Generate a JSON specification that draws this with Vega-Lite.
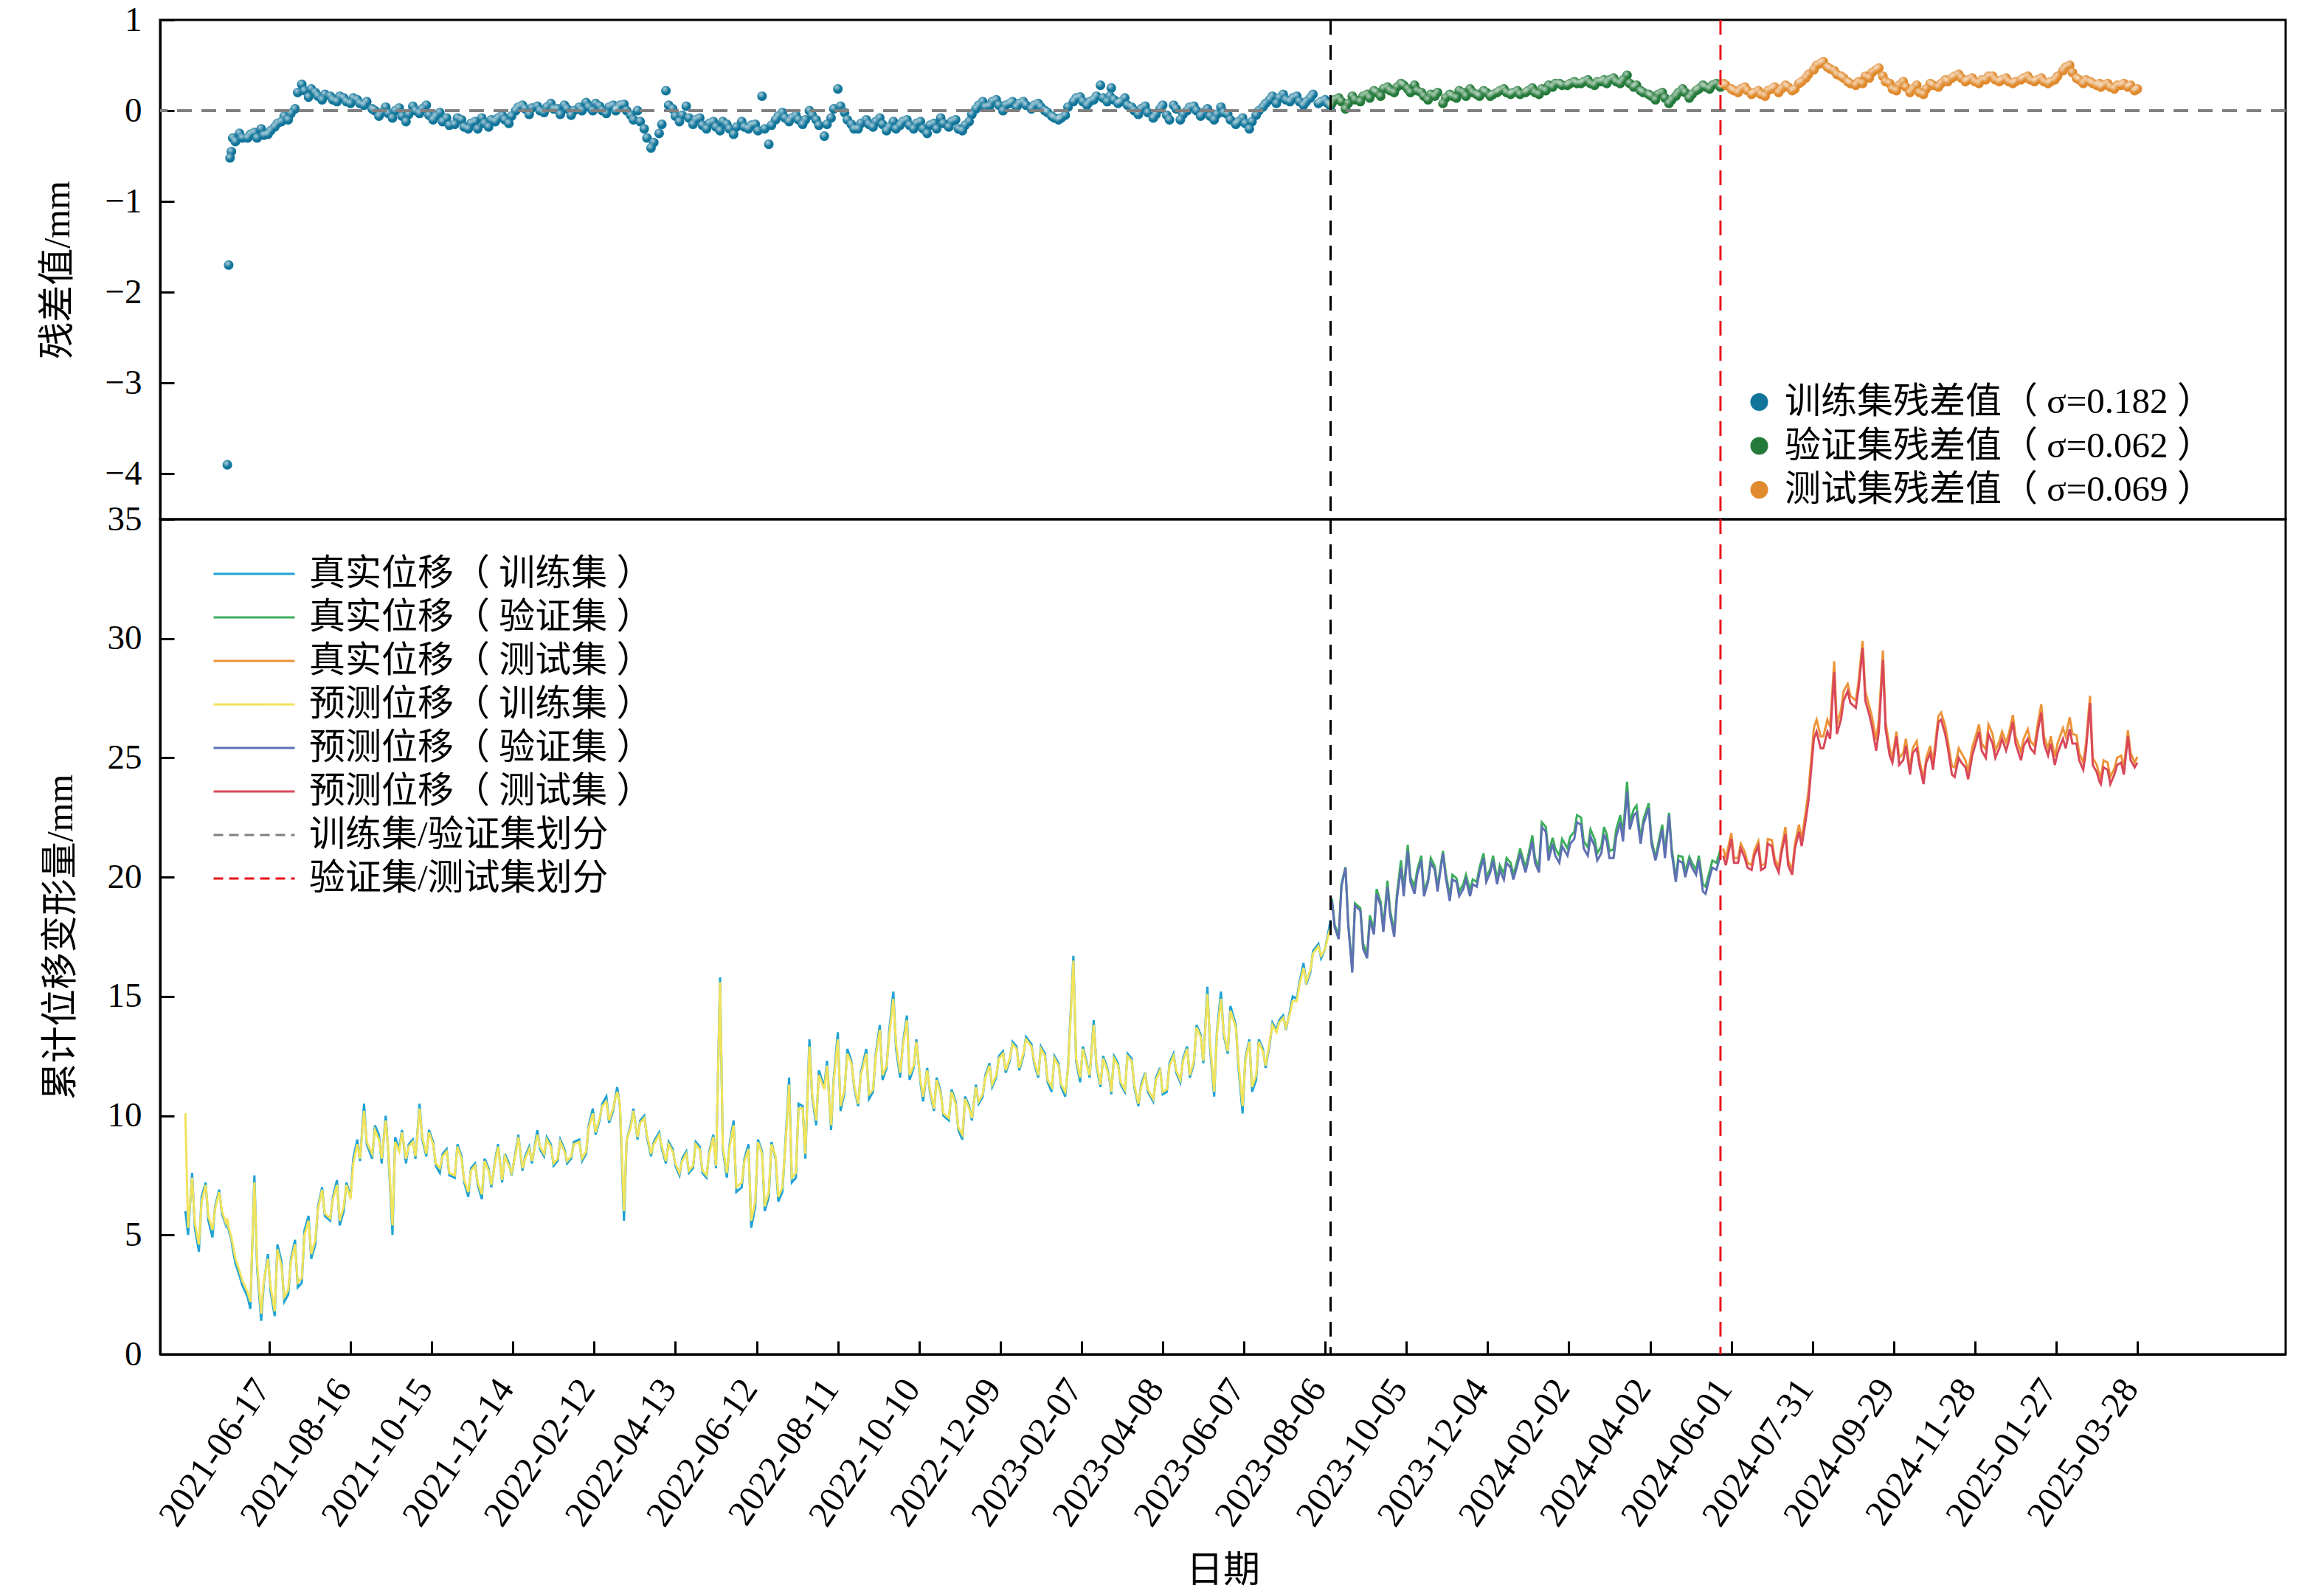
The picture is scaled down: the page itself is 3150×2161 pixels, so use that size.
{
  "$schema": "https://vega.github.io/schema/vega-lite/v6.json",
  "background": "white",
  "padding": {"left": 52, "top": 1, "right": 53, "bottom": 10},
  "autosize": {"type": "pad"},
  "bounds": "flush",
  "spacing": 0,
  "config": {
    "font": "Liberation Serif, Noto Sans CJK SC",
    "view": {"stroke": "black", "strokeWidth": 3},
    "axis": {
      "grid": false, "domainColor": "black", "domainWidth": 3, "tickColor": "black", "tickWidth": 3,
      "labelColor": "black", "titleColor": "black", "labelFontSize": 47, "titleFontSize": 50,
      "titleFontWeight": "normal", "labelFont": "Liberation Serif, Noto Sans CJK SC", "titleFont": "Liberation Serif, Noto Sans CJK SC"
    },
    "axisY": {"tickSize": -19, "labelPadding": 44, "titlePadding": 38},
    "legend": {"labelFont": "Liberation Serif, Noto Sans CJK SC", "labelColor": "black", "labelLimit": 0, "padding": 0}
  },
  "resolve": {"scale": {"color": "independent", "strokeDash": "independent"}},
  "datasets": {
    "train": [
      {"d":"2021-04-16","t":6.0,"p":10.1},
      {"d":"2021-04-18","t":5.0,"p":5.3},
      {"d":"2021-04-21","t":7.6,"p":7.4},
      {"d":"2021-04-23","t":5.3,"p":5.5},
      {"d":"2021-04-26","t":4.3,"p":4.6},
      {"d":"2021-04-28","t":6.6,"p":6.4},
      {"d":"2021-05-01","t":7.2,"p":7.1},
      {"d":"2021-05-03","t":5.6,"p":5.8},
      {"d":"2021-05-06","t":4.9,"p":5.2},
      {"d":"2021-05-08","t":6.2,"p":6.1},
      {"d":"2021-05-11","t":6.9,"p":6.8},
      {"d":"2021-05-13","t":5.9,"p":6.0},
      {"d":"2021-05-16","t":5.4,"p":5.5},
      {"d":"2021-05-17","t":5.6,"p":5.7,"r":-3.9},
      {"d":"2021-05-18","t":5.2,"p":5.3,"r":-1.7},
      {"d":"2021-05-19","t":5.0,"p":5.1,"r":-0.52},
      {"d":"2021-05-20","t":4.8,"p":4.9,"r":-0.45},
      {"d":"2021-05-21","t":4.4,"p":4.6,"r":-0.3},
      {"d":"2021-05-23","t":3.8,"p":4.0,"r":-0.34},
      {"d":"2021-05-26","t":3.3,"p":3.5,"r":-0.25},
      {"d":"2021-05-28","t":2.9,"p":3.1,"r":-0.3},
      {"d":"2021-06-01","t":2.4,"p":2.6,"r":-0.3},
      {"d":"2021-06-03","t":1.9,"p":2.2,"r":-0.26},
      {"d":"2021-06-06","t":7.5,"p":7.2,"r":-0.24},
      {"d":"2021-06-08","t":3.6,"p":3.8,"r":-0.3},
      {"d":"2021-06-11","t":1.4,"p":1.7,"r":-0.2},
      {"d":"2021-06-13","t":3.0,"p":3.1,"r":-0.27},
      {"d":"2021-06-16","t":4.2,"p":4.0,"r":-0.26},
      {"d":"2021-06-18","t":2.6,"p":2.8,"r":-0.22},
      {"d":"2021-06-21","t":1.6,"p":1.8,"r":-0.18},
      {"d":"2021-06-23","t":4.6,"p":4.4,"r":-0.14},
      {"d":"2021-06-26","t":3.9,"p":3.7,"r":-0.12},
      {"d":"2021-06-28","t":2.2,"p":2.4,"r":-0.06},
      {"d":"2021-07-01","t":2.5,"p":2.7,"r":-0.1},
      {"d":"2021-07-03","t":4.0,"p":3.9,"r":-0.03},
      {"d":"2021-07-06","t":4.8,"p":4.6,"r":0.02},
      {"d":"2021-07-08","t":2.8,"p":3.0,"r":0.2},
      {"d":"2021-07-11","t":3.0,"p":3.2,"r":0.29},
      {"d":"2021-07-13","t":5.2,"p":5.0,"r":0.22},
      {"d":"2021-07-16","t":5.8,"p":5.6,"r":0.15},
      {"d":"2021-07-18","t":4.0,"p":4.2,"r":0.24},
      {"d":"2021-07-21","t":4.6,"p":4.8,"r":0.2},
      {"d":"2021-07-23","t":6.2,"p":6.1,"r":0.16},
      {"d":"2021-07-26","t":7.0,"p":6.9,"r":0.12},
      {"d":"2021-07-28","t":5.8,"p":5.9,"r":0.18},
      {"d":"2021-08-01","t":5.6,"p":5.7,"r":0.16},
      {"d":"2021-08-03","t":6.6,"p":6.5,"r":0.12},
      {"d":"2021-08-06","t":7.3,"p":7.1,"r":0.1},
      {"d":"2021-08-08","t":5.4,"p":5.6,"r":0.16},
      {"d":"2021-08-11","t":6.0,"p":6.2,"r":0.14},
      {"d":"2021-08-13","t":7.2,"p":7.1,"r":0.1},
      {"d":"2021-08-16","t":6.6,"p":6.5,"r":0.08},
      {"d":"2021-08-18","t":8.2,"p":8.0,"r":0.14},
      {"d":"2021-08-21","t":9.0,"p":8.8,"r":0.12},
      {"d":"2021-08-23","t":8.1,"p":8.2,"r":0.08},
      {"d":"2021-08-26","t":10.5,"p":10.2,"r":0.06},
      {"d":"2021-08-28","t":8.8,"p":8.9,"r":0.1},
      {"d":"2021-09-01","t":8.2,"p":8.4,"r":0.02},
      {"d":"2021-09-03","t":9.6,"p":9.4,"r":0.0},
      {"d":"2021-09-06","t":9.2,"p":9.0,"r":-0.06},
      {"d":"2021-09-08","t":8.0,"p":8.2,"r":-0.02},
      {"d":"2021-09-11","t":10.0,"p":9.8,"r":0.04},
      {"d":"2021-09-13","t":8.4,"p":8.5,"r":-0.03},
      {"d":"2021-09-16","t":5.0,"p":5.4,"r":-0.08},
      {"d":"2021-09-18","t":9.1,"p":8.9,"r":0.0},
      {"d":"2021-09-21","t":8.6,"p":8.5,"r":0.03},
      {"d":"2021-09-23","t":9.4,"p":9.3,"r":-0.06},
      {"d":"2021-09-26","t":8.0,"p":8.2,"r":-0.12},
      {"d":"2021-09-28","t":8.8,"p":8.7,"r":-0.04},
      {"d":"2021-10-01","t":9.0,"p":8.9,"r":0.05},
      {"d":"2021-10-03","t":8.2,"p":8.3,"r":0.0},
      {"d":"2021-10-06","t":10.5,"p":10.3,"r":-0.03},
      {"d":"2021-10-08","t":9.0,"p":9.1,"r":0.02},
      {"d":"2021-10-11","t":8.3,"p":8.4,"r":0.06},
      {"d":"2021-10-13","t":9.4,"p":9.3,"r":-0.05},
      {"d":"2021-10-16","t":8.9,"p":8.8,"r":-0.1},
      {"d":"2021-10-18","t":7.9,"p":8.0,"r":-0.06},
      {"d":"2021-10-21","t":7.6,"p":7.8,"r":-0.02},
      {"d":"2021-10-23","t":8.4,"p":8.3,"r":-0.12},
      {"d":"2021-10-26","t":8.6,"p":8.5,"r":-0.08},
      {"d":"2021-10-28","t":7.5,"p":7.6,"r":-0.16},
      {"d":"2021-11-01","t":7.4,"p":7.5,"r":-0.15},
      {"d":"2021-11-03","t":8.8,"p":8.7,"r":-0.08},
      {"d":"2021-11-06","t":8.3,"p":8.2,"r":-0.1},
      {"d":"2021-11-08","t":7.2,"p":7.3,"r":-0.18},
      {"d":"2021-11-11","t":6.6,"p":6.8,"r":-0.2},
      {"d":"2021-11-13","t":7.8,"p":7.7,"r":-0.14},
      {"d":"2021-11-16","t":8.0,"p":7.9,"r":-0.12},
      {"d":"2021-11-18","t":7.1,"p":7.2,"r":-0.2},
      {"d":"2021-11-21","t":6.5,"p":6.7,"r":-0.08},
      {"d":"2021-11-23","t":8.2,"p":8.1,"r":-0.14},
      {"d":"2021-11-26","t":7.8,"p":7.7,"r":-0.18},
      {"d":"2021-11-28","t":7.0,"p":7.1,"r":-0.1},
      {"d":"2021-12-01","t":8.2,"p":8.1,"r":-0.12},
      {"d":"2021-12-03","t":8.8,"p":8.7,"r":-0.08},
      {"d":"2021-12-06","t":7.2,"p":7.3,"r":-0.05},
      {"d":"2021-12-08","t":8.4,"p":8.3,"r":-0.1},
      {"d":"2021-12-11","t":8.0,"p":7.9,"r":-0.14},
      {"d":"2021-12-13","t":7.5,"p":7.6,"r":-0.06},
      {"d":"2021-12-16","t":8.5,"p":8.4,"r":0.0},
      {"d":"2021-12-18","t":9.2,"p":9.1,"r":0.04},
      {"d":"2021-12-21","t":7.7,"p":7.8,"r":0.06},
      {"d":"2021-12-23","t":8.3,"p":8.2,"r":0.02},
      {"d":"2021-12-26","t":8.7,"p":8.6,"r":-0.04},
      {"d":"2021-12-28","t":8.0,"p":8.1,"r":0.03},
      {"d":"2022-01-01","t":9.4,"p":9.2,"r":0.05},
      {"d":"2022-01-03","t":8.6,"p":8.7,"r":0.0},
      {"d":"2022-01-06","t":8.3,"p":8.4,"r":-0.02},
      {"d":"2022-01-08","t":9.1,"p":9.0,"r":0.04},
      {"d":"2022-01-11","t":8.8,"p":8.7,"r":0.08},
      {"d":"2022-01-13","t":7.9,"p":8.0,"r":0.02},
      {"d":"2022-01-16","t":8.1,"p":8.2,"r":0.02},
      {"d":"2022-01-18","t":9.0,"p":8.9,"r":-0.04},
      {"d":"2022-01-21","t":8.6,"p":8.5,"r":0.06},
      {"d":"2022-01-23","t":8.0,"p":8.1,"r":0.02},
      {"d":"2022-01-26","t":8.2,"p":8.3,"r":-0.05},
      {"d":"2022-01-28","t":8.9,"p":8.8,"r":0.0},
      {"d":"2022-02-01","t":9.0,"p":8.9,"r":0.04},
      {"d":"2022-02-03","t":8.1,"p":8.2,"r":0.0},
      {"d":"2022-02-06","t":8.4,"p":8.5,"r":0.09},
      {"d":"2022-02-08","t":9.6,"p":9.5,"r":0.04},
      {"d":"2022-02-11","t":10.3,"p":10.1,"r":0.0},
      {"d":"2022-02-13","t":9.2,"p":9.3,"r":0.08},
      {"d":"2022-02-16","t":9.8,"p":9.9,"r":0.05},
      {"d":"2022-02-18","t":10.5,"p":10.4,"r":0.0},
      {"d":"2022-02-21","t":10.8,"p":10.6,"r":-0.03},
      {"d":"2022-02-23","t":9.7,"p":9.8,"r":0.04},
      {"d":"2022-02-26","t":10.2,"p":10.3,"r":0.06},
      {"d":"2022-02-28","t":10.9,"p":10.8,"r":0.0},
      {"d":"2022-03-01","t":11.2,"p":11.0,"r":0.02},
      {"d":"2022-03-03","t":10.4,"p":10.5,"r":0.06},
      {"d":"2022-03-06","t":5.6,"p":6.0,"r":0.07},
      {"d":"2022-03-08","t":9.0,"p":9.0,"r":0.0},
      {"d":"2022-03-11","t":9.6,"p":9.5,"r":-0.05},
      {"d":"2022-03-13","t":10.3,"p":10.2,"r":-0.1},
      {"d":"2022-03-16","t":9.0,"p":9.1,"r":0.0},
      {"d":"2022-03-18","t":9.8,"p":9.7,"r":-0.12},
      {"d":"2022-03-21","t":10.0,"p":9.9,"r":-0.2},
      {"d":"2022-03-23","t":9.1,"p":9.2,"r":-0.3},
      {"d":"2022-03-26","t":8.3,"p":8.4,"r":-0.41},
      {"d":"2022-03-28","t":8.9,"p":8.8,"r":-0.35},
      {"d":"2022-04-01","t":9.3,"p":9.2,"r":-0.25},
      {"d":"2022-04-03","t":8.6,"p":8.7,"r":-0.15},
      {"d":"2022-04-06","t":8.0,"p":8.1,"r":0.22},
      {"d":"2022-04-08","t":8.9,"p":8.8,"r":0.06},
      {"d":"2022-04-11","t":8.6,"p":8.5,"r":0.02},
      {"d":"2022-04-13","t":7.9,"p":8.0,"r":-0.06},
      {"d":"2022-04-16","t":7.5,"p":7.6,"r":-0.12},
      {"d":"2022-04-18","t":8.2,"p":8.1,"r":-0.05},
      {"d":"2022-04-21","t":8.5,"p":8.4,"r":0.05},
      {"d":"2022-04-23","t":7.6,"p":7.7,"r":-0.08},
      {"d":"2022-04-26","t":7.8,"p":7.9,"r":-0.15},
      {"d":"2022-04-28","t":8.9,"p":8.8,"r":-0.1},
      {"d":"2022-05-01","t":8.7,"p":8.6,"r":-0.08},
      {"d":"2022-05-03","t":7.6,"p":7.7,"r":-0.16},
      {"d":"2022-05-06","t":7.4,"p":7.5,"r":-0.2},
      {"d":"2022-05-08","t":8.5,"p":8.4,"r":-0.14},
      {"d":"2022-05-11","t":9.2,"p":9.1,"r":-0.12},
      {"d":"2022-05-13","t":7.8,"p":7.9,"r":-0.18},
      {"d":"2022-05-16","t":15.8,"p":15.6,"r":-0.22},
      {"d":"2022-05-18","t":8.6,"p":8.7,"r":-0.12},
      {"d":"2022-05-21","t":7.4,"p":7.6,"r":-0.15},
      {"d":"2022-05-23","t":8.8,"p":8.7,"r":-0.2},
      {"d":"2022-05-26","t":9.8,"p":9.6,"r":-0.26},
      {"d":"2022-05-28","t":6.8,"p":7.0,"r":-0.18},
      {"d":"2022-06-01","t":7.0,"p":7.2,"r":-0.12},
      {"d":"2022-06-03","t":8.2,"p":8.1,"r":-0.18},
      {"d":"2022-06-06","t":8.8,"p":8.6,"r":-0.2},
      {"d":"2022-06-08","t":5.3,"p":5.6,"r":-0.16},
      {"d":"2022-06-11","t":6.2,"p":6.4,"r":-0.15},
      {"d":"2022-06-13","t":9.0,"p":8.9,"r":-0.22},
      {"d":"2022-06-16","t":8.5,"p":8.4,"r":0.16},
      {"d":"2022-06-18","t":6.0,"p":6.2,"r":-0.2},
      {"d":"2022-06-21","t":6.6,"p":6.8,"r":-0.37},
      {"d":"2022-06-23","t":8.9,"p":8.8,"r":-0.16},
      {"d":"2022-06-26","t":8.2,"p":8.3,"r":-0.1},
      {"d":"2022-06-28","t":6.4,"p":6.6,"r":-0.06},
      {"d":"2022-07-01","t":6.8,"p":7.0,"r":-0.02},
      {"d":"2022-07-03","t":8.6,"p":8.5,"r":-0.08},
      {"d":"2022-07-06","t":11.6,"p":11.3,"r":-0.12},
      {"d":"2022-07-08","t":7.2,"p":7.4,"r":-0.08},
      {"d":"2022-07-11","t":7.4,"p":7.6,"r":-0.05},
      {"d":"2022-07-13","t":10.5,"p":10.3,"r":-0.1},
      {"d":"2022-07-16","t":10.4,"p":10.3,"r":-0.15},
      {"d":"2022-07-18","t":8.2,"p":8.4,"r":-0.1},
      {"d":"2022-07-21","t":13.2,"p":12.9,"r":0.0},
      {"d":"2022-07-23","t":10.8,"p":10.9,"r":-0.05},
      {"d":"2022-07-26","t":9.6,"p":9.8,"r":-0.1},
      {"d":"2022-07-28","t":11.9,"p":11.7,"r":-0.16},
      {"d":"2022-08-01","t":11.2,"p":11.1,"r":-0.28},
      {"d":"2022-08-03","t":12.3,"p":12.1,"r":-0.15},
      {"d":"2022-08-06","t":9.4,"p":9.6,"r":-0.08},
      {"d":"2022-08-08","t":11.6,"p":11.5,"r":0.02},
      {"d":"2022-08-11","t":13.5,"p":13.2,"r":0.24},
      {"d":"2022-08-13","t":10.2,"p":10.4,"r":0.05},
      {"d":"2022-08-16","t":11.0,"p":11.1,"r":-0.02},
      {"d":"2022-08-18","t":12.8,"p":12.6,"r":-0.1},
      {"d":"2022-08-21","t":12.3,"p":12.2,"r":-0.15},
      {"d":"2022-08-23","t":11.2,"p":11.3,"r":-0.2},
      {"d":"2022-08-26","t":10.4,"p":10.5,"r":-0.2},
      {"d":"2022-08-28","t":11.8,"p":11.7,"r":-0.14},
      {"d":"2022-09-01","t":12.8,"p":12.6,"r":-0.1},
      {"d":"2022-09-03","t":10.7,"p":10.9,"r":-0.15},
      {"d":"2022-09-06","t":11.0,"p":11.1,"r":-0.18},
      {"d":"2022-09-08","t":12.6,"p":12.5,"r":-0.12},
      {"d":"2022-09-11","t":13.8,"p":13.6,"r":-0.08},
      {"d":"2022-09-13","t":11.5,"p":11.7,"r":-0.15},
      {"d":"2022-09-16","t":12.0,"p":12.1,"r":-0.22},
      {"d":"2022-09-18","t":13.6,"p":13.4,"r":-0.18},
      {"d":"2022-09-21","t":15.2,"p":14.9,"r":-0.12},
      {"d":"2022-09-23","t":12.8,"p":13.0,"r":-0.2},
      {"d":"2022-09-26","t":11.6,"p":11.8,"r":-0.16},
      {"d":"2022-09-28","t":13.0,"p":12.9,"r":-0.12},
      {"d":"2022-10-01","t":14.2,"p":14.0,"r":-0.1},
      {"d":"2022-10-03","t":11.5,"p":11.7,"r":-0.16},
      {"d":"2022-10-06","t":12.0,"p":12.1,"r":-0.2},
      {"d":"2022-10-08","t":13.2,"p":13.1,"r":-0.14},
      {"d":"2022-10-11","t":11.4,"p":11.5,"r":-0.12},
      {"d":"2022-10-13","t":10.6,"p":10.8,"r":-0.2},
      {"d":"2022-10-16","t":12.0,"p":11.9,"r":-0.25},
      {"d":"2022-10-18","t":11.0,"p":11.1,"r":-0.16},
      {"d":"2022-10-21","t":10.2,"p":10.3,"r":-0.14},
      {"d":"2022-10-23","t":11.6,"p":11.5,"r":-0.2},
      {"d":"2022-10-26","t":11.0,"p":10.9,"r":-0.08},
      {"d":"2022-10-28","t":10.0,"p":10.1,"r":-0.14},
      {"d":"2022-11-01","t":9.8,"p":9.9,"r":-0.18},
      {"d":"2022-11-03","t":11.1,"p":11.0,"r":-0.12},
      {"d":"2022-11-06","t":10.6,"p":10.5,"r":-0.1},
      {"d":"2022-11-08","t":9.4,"p":9.5,"r":-0.2},
      {"d":"2022-11-11","t":9.0,"p":9.2,"r":-0.22},
      {"d":"2022-11-13","t":10.8,"p":10.7,"r":-0.16},
      {"d":"2022-11-16","t":10.4,"p":10.3,"r":-0.12},
      {"d":"2022-11-18","t":9.8,"p":9.9,"r":-0.04},
      {"d":"2022-11-21","t":11.3,"p":11.2,"r":0.02},
      {"d":"2022-11-23","t":10.5,"p":10.6,"r":0.06},
      {"d":"2022-11-26","t":10.8,"p":10.9,"r":0.1},
      {"d":"2022-11-28","t":11.7,"p":11.6,"r":0.04},
      {"d":"2022-12-01","t":12.2,"p":12.1,"r":0.05},
      {"d":"2022-12-03","t":11.2,"p":11.3,"r":0.1},
      {"d":"2022-12-06","t":11.6,"p":11.7,"r":0.12},
      {"d":"2022-12-08","t":12.5,"p":12.4,"r":0.06},
      {"d":"2022-12-11","t":12.7,"p":12.6,"r":0.0},
      {"d":"2022-12-13","t":11.8,"p":11.9,"r":0.06},
      {"d":"2022-12-16","t":12.3,"p":12.4,"r":0.08},
      {"d":"2022-12-18","t":13.1,"p":13.0,"r":0.1},
      {"d":"2022-12-21","t":12.9,"p":12.8,"r":0.04},
      {"d":"2022-12-23","t":11.9,"p":12.0,"r":0.08},
      {"d":"2022-12-26","t":12.5,"p":12.6,"r":0.1},
      {"d":"2022-12-28","t":13.3,"p":13.2,"r":0.06},
      {"d":"2023-01-01","t":13.0,"p":12.9,"r":0.02},
      {"d":"2023-01-03","t":12.2,"p":12.3,"r":0.06},
      {"d":"2023-01-06","t":11.6,"p":11.7,"r":0.08},
      {"d":"2023-01-08","t":12.9,"p":12.8,"r":0.04},
      {"d":"2023-01-11","t":12.6,"p":12.5,"r":0.0},
      {"d":"2023-01-13","t":11.4,"p":11.5,"r":-0.02},
      {"d":"2023-01-16","t":11.0,"p":11.2,"r":-0.06},
      {"d":"2023-01-18","t":12.5,"p":12.4,"r":-0.08},
      {"d":"2023-01-21","t":12.2,"p":12.1,"r":-0.1},
      {"d":"2023-01-23","t":11.2,"p":11.3,"r":-0.08},
      {"d":"2023-01-26","t":10.8,"p":11.0,"r":-0.05},
      {"d":"2023-01-28","t":12.0,"p":11.9,"r":0.04},
      {"d":"2023-02-01","t":16.7,"p":16.5,"r":0.1},
      {"d":"2023-02-03","t":12.3,"p":12.4,"r":0.14},
      {"d":"2023-02-06","t":11.4,"p":11.6,"r":0.15},
      {"d":"2023-02-08","t":12.9,"p":12.8,"r":0.1},
      {"d":"2023-02-11","t":12.2,"p":12.1,"r":0.06},
      {"d":"2023-02-13","t":11.6,"p":11.7,"r":0.1},
      {"d":"2023-02-16","t":14.0,"p":13.8,"r":0.12},
      {"d":"2023-02-18","t":12.1,"p":12.2,"r":0.16},
      {"d":"2023-02-21","t":11.2,"p":11.3,"r":0.28},
      {"d":"2023-02-23","t":12.5,"p":12.4,"r":0.14},
      {"d":"2023-02-26","t":12.0,"p":11.9,"r":0.1},
      {"d":"2023-02-28","t":11.4,"p":11.5,"r":0.16},
      {"d":"2023-03-01","t":10.9,"p":11.0,"r":0.25},
      {"d":"2023-03-03","t":12.5,"p":12.4,"r":0.12},
      {"d":"2023-03-06","t":12.2,"p":12.1,"r":0.08},
      {"d":"2023-03-08","t":11.3,"p":11.4,"r":0.1},
      {"d":"2023-03-11","t":11.0,"p":11.1,"r":0.14},
      {"d":"2023-03-13","t":12.6,"p":12.5,"r":0.06},
      {"d":"2023-03-16","t":12.4,"p":12.3,"r":0.04},
      {"d":"2023-03-18","t":11.2,"p":11.3,"r":0.0},
      {"d":"2023-03-21","t":10.4,"p":10.5,"r":-0.04},
      {"d":"2023-03-23","t":11.3,"p":11.2,"r":0.02},
      {"d":"2023-03-26","t":11.8,"p":11.7,"r":0.05},
      {"d":"2023-03-28","t":11.0,"p":11.1,"r":-0.02},
      {"d":"2023-04-01","t":10.6,"p":10.7,"r":-0.08},
      {"d":"2023-04-03","t":11.6,"p":11.5,"r":-0.04},
      {"d":"2023-04-06","t":12.0,"p":11.9,"r":0.02},
      {"d":"2023-04-08","t":10.9,"p":11.0,"r":0.06},
      {"d":"2023-04-11","t":11.0,"p":11.1,"r":-0.05},
      {"d":"2023-04-13","t":12.2,"p":12.1,"r":-0.1},
      {"d":"2023-04-16","t":12.6,"p":12.5,"r":0.06},
      {"d":"2023-04-18","t":11.8,"p":11.9,"r":0.02},
      {"d":"2023-04-21","t":11.4,"p":11.5,"r":-0.1},
      {"d":"2023-04-23","t":12.4,"p":12.3,"r":-0.04},
      {"d":"2023-04-26","t":12.9,"p":12.8,"r":0.0},
      {"d":"2023-04-28","t":11.6,"p":11.7,"r":0.04},
      {"d":"2023-05-01","t":12.2,"p":12.3,"r":0.05},
      {"d":"2023-05-03","t":13.8,"p":13.7,"r":0.0},
      {"d":"2023-05-06","t":13.4,"p":13.3,"r":-0.06},
      {"d":"2023-05-08","t":12.2,"p":12.3,"r":-0.02},
      {"d":"2023-05-11","t":15.4,"p":15.1,"r":0.02},
      {"d":"2023-05-13","t":12.8,"p":13.0,"r":-0.06},
      {"d":"2023-05-16","t":10.8,"p":11.0,"r":-0.1},
      {"d":"2023-05-18","t":13.5,"p":13.4,"r":-0.04},
      {"d":"2023-05-21","t":15.2,"p":14.9,"r":0.04},
      {"d":"2023-05-23","t":13.4,"p":13.5,"r":-0.02},
      {"d":"2023-05-26","t":12.6,"p":12.7,"r":-0.04},
      {"d":"2023-05-28","t":14.6,"p":14.4,"r":-0.1},
      {"d":"2023-06-01","t":13.8,"p":13.7,"r":-0.15},
      {"d":"2023-06-03","t":12.0,"p":12.2,"r":-0.12},
      {"d":"2023-06-06","t":10.1,"p":10.4,"r":-0.08},
      {"d":"2023-06-08","t":12.4,"p":12.3,"r":-0.14},
      {"d":"2023-06-11","t":13.2,"p":13.1,"r":-0.2},
      {"d":"2023-06-13","t":11.0,"p":11.2,"r":-0.12},
      {"d":"2023-06-16","t":11.5,"p":11.7,"r":-0.05},
      {"d":"2023-06-18","t":13.2,"p":13.1,"r":0.0},
      {"d":"2023-06-21","t":12.8,"p":12.7,"r":0.04},
      {"d":"2023-06-23","t":12.0,"p":12.1,"r":0.08},
      {"d":"2023-06-26","t":13.0,"p":13.1,"r":0.12},
      {"d":"2023-06-28","t":13.9,"p":13.8,"r":0.16},
      {"d":"2023-07-01","t":13.6,"p":13.5,"r":0.08},
      {"d":"2023-07-03","t":14.0,"p":13.9,"r":0.14},
      {"d":"2023-07-06","t":14.2,"p":14.1,"r":0.18},
      {"d":"2023-07-08","t":13.6,"p":13.7,"r":0.12},
      {"d":"2023-07-11","t":14.4,"p":14.3,"r":0.1},
      {"d":"2023-07-13","t":15.0,"p":14.8,"r":0.14},
      {"d":"2023-07-16","t":14.9,"p":14.8,"r":0.16},
      {"d":"2023-07-18","t":15.6,"p":15.5,"r":0.1},
      {"d":"2023-07-21","t":16.4,"p":16.2,"r":0.06},
      {"d":"2023-07-23","t":15.5,"p":15.6,"r":0.1},
      {"d":"2023-07-26","t":16.0,"p":16.1,"r":0.14},
      {"d":"2023-07-28","t":16.9,"p":16.8,"r":0.18},
      {"d":"2023-08-01","t":17.2,"p":17.1,"r":0.08},
      {"d":"2023-08-03","t":16.6,"p":16.7,"r":0.1},
      {"d":"2023-08-06","t":17.0,"p":17.0,"r":0.12},
      {"d":"2023-08-08","t":17.6,"p":17.5,"r":0.08},
      {"d":"2023-08-10","t":18.2,"p":17.9,"r":0.05}
    ],
    "val": [
      {"d":"2023-08-11","t":19.1,"p":19.0,"r":0.08},
      {"d":"2023-08-13","t":18.0,"p":17.9,"r":0.12},
      {"d":"2023-08-16","t":17.55,"p":17.4,"r":0.14},
      {"d":"2023-08-18","t":19.7,"p":19.6,"r":0.1},
      {"d":"2023-08-21","t":20.42,"p":20.4,"r":0.02},
      {"d":"2023-08-23","t":18.1,"p":18.0,"r":0.08},
      {"d":"2023-08-26","t":16.15,"p":16.0,"r":0.16},
      {"d":"2023-08-28","t":18.9,"p":18.8,"r":0.12},
      {"d":"2023-09-01","t":18.7,"p":18.6,"r":0.1},
      {"d":"2023-09-03","t":17.2,"p":17.0,"r":0.16},
      {"d":"2023-09-06","t":16.8,"p":16.6,"r":0.18},
      {"d":"2023-09-08","t":18.4,"p":18.2,"r":0.14},
      {"d":"2023-09-11","t":17.8,"p":17.6,"r":0.22},
      {"d":"2023-09-13","t":19.5,"p":19.3,"r":0.2},
      {"d":"2023-09-16","t":18.95,"p":18.8,"r":0.16},
      {"d":"2023-09-18","t":17.9,"p":17.7,"r":0.24},
      {"d":"2023-09-21","t":19.85,"p":19.6,"r":0.26},
      {"d":"2023-09-23","t":18.6,"p":18.4,"r":0.22},
      {"d":"2023-09-26","t":17.7,"p":17.5,"r":0.2},
      {"d":"2023-09-28","t":19.3,"p":19.1,"r":0.26},
      {"d":"2023-10-01","t":20.7,"p":20.4,"r":0.3},
      {"d":"2023-10-03","t":19.5,"p":19.2,"r":0.28},
      {"d":"2023-10-06","t":21.35,"p":21.1,"r":0.24},
      {"d":"2023-10-08","t":20.0,"p":19.8,"r":0.2},
      {"d":"2023-10-11","t":19.6,"p":19.3,"r":0.28},
      {"d":"2023-10-13","t":20.3,"p":20.1,"r":0.22},
      {"d":"2023-10-16","t":20.9,"p":20.7,"r":0.2},
      {"d":"2023-10-18","t":19.4,"p":19.2,"r":0.16},
      {"d":"2023-10-21","t":19.9,"p":19.8,"r":0.12},
      {"d":"2023-10-23","t":20.8,"p":20.6,"r":0.18},
      {"d":"2023-10-26","t":20.45,"p":20.3,"r":0.16},
      {"d":"2023-10-28","t":19.6,"p":19.4,"r":0.2},
      {"d":"2023-11-01","t":21.1,"p":21.0,"r":0.08},
      {"d":"2023-11-03","t":20.2,"p":20.0,"r":0.14},
      {"d":"2023-11-06","t":19.2,"p":19.0,"r":0.18},
      {"d":"2023-11-08","t":20.1,"p":19.9,"r":0.16},
      {"d":"2023-11-11","t":19.95,"p":19.8,"r":0.14},
      {"d":"2023-11-13","t":19.4,"p":19.2,"r":0.22},
      {"d":"2023-11-16","t":19.7,"p":19.5,"r":0.2},
      {"d":"2023-11-18","t":20.1,"p":19.9,"r":0.16},
      {"d":"2023-11-21","t":19.45,"p":19.2,"r":0.24},
      {"d":"2023-11-23","t":19.9,"p":19.7,"r":0.2},
      {"d":"2023-11-26","t":19.8,"p":19.6,"r":0.18},
      {"d":"2023-11-28","t":20.4,"p":20.2,"r":0.16},
      {"d":"2023-12-01","t":21.0,"p":20.8,"r":0.22},
      {"d":"2023-12-03","t":20.0,"p":19.8,"r":0.2},
      {"d":"2023-12-06","t":20.35,"p":20.2,"r":0.16},
      {"d":"2023-12-08","t":20.9,"p":20.7,"r":0.18},
      {"d":"2023-12-11","t":19.9,"p":19.7,"r":0.2},
      {"d":"2023-12-13","t":20.5,"p":20.3,"r":0.22},
      {"d":"2023-12-16","t":20.15,"p":19.9,"r":0.24},
      {"d":"2023-12-18","t":20.8,"p":20.6,"r":0.2},
      {"d":"2023-12-21","t":20.6,"p":20.4,"r":0.18},
      {"d":"2023-12-23","t":20.1,"p":19.9,"r":0.2},
      {"d":"2023-12-26","t":20.7,"p":20.5,"r":0.22},
      {"d":"2023-12-28","t":21.2,"p":21.0,"r":0.18},
      {"d":"2024-01-01","t":20.4,"p":20.2,"r":0.2},
      {"d":"2024-01-03","t":20.9,"p":20.7,"r":0.22},
      {"d":"2024-01-06","t":21.75,"p":21.5,"r":0.25},
      {"d":"2024-01-08","t":20.8,"p":20.6,"r":0.2},
      {"d":"2024-01-11","t":20.4,"p":20.2,"r":0.18},
      {"d":"2024-01-13","t":22.3,"p":22.1,"r":0.24},
      {"d":"2024-01-16","t":22.1,"p":21.9,"r":0.22},
      {"d":"2024-01-18","t":21.0,"p":20.7,"r":0.28},
      {"d":"2024-01-21","t":21.65,"p":21.4,"r":0.26},
      {"d":"2024-01-23","t":21.2,"p":20.9,"r":0.3},
      {"d":"2024-01-26","t":20.9,"p":20.6,"r":0.3},
      {"d":"2024-01-28","t":21.6,"p":21.3,"r":0.28},
      {"d":"2024-02-01","t":21.2,"p":20.9,"r":0.28},
      {"d":"2024-02-03","t":21.7,"p":21.4,"r":0.3},
      {"d":"2024-02-06","t":21.9,"p":21.6,"r":0.32},
      {"d":"2024-02-08","t":22.6,"p":22.3,"r":0.3},
      {"d":"2024-02-11","t":22.5,"p":22.2,"r":0.3},
      {"d":"2024-02-13","t":21.5,"p":21.2,"r":0.32},
      {"d":"2024-02-16","t":21.25,"p":20.9,"r":0.34},
      {"d":"2024-02-18","t":22.0,"p":21.7,"r":0.3},
      {"d":"2024-02-21","t":21.6,"p":21.3,"r":0.28},
      {"d":"2024-02-23","t":21.0,"p":20.7,"r":0.32},
      {"d":"2024-02-26","t":21.3,"p":21.0,"r":0.32},
      {"d":"2024-02-28","t":22.1,"p":21.8,"r":0.34},
      {"d":"2024-03-01","t":21.8,"p":21.5,"r":0.3},
      {"d":"2024-03-03","t":21.1,"p":20.8,"r":0.34},
      {"d":"2024-03-06","t":21.15,"p":20.8,"r":0.36},
      {"d":"2024-03-08","t":22.0,"p":21.7,"r":0.32},
      {"d":"2024-03-11","t":22.6,"p":22.3,"r":0.3},
      {"d":"2024-03-13","t":21.8,"p":21.5,"r":0.34},
      {"d":"2024-03-16","t":24.0,"p":23.6,"r":0.39},
      {"d":"2024-03-18","t":22.3,"p":22.0,"r":0.3},
      {"d":"2024-03-21","t":22.85,"p":22.6,"r":0.26},
      {"d":"2024-03-23","t":23.0,"p":22.7,"r":0.28},
      {"d":"2024-03-26","t":21.6,"p":21.4,"r":0.22},
      {"d":"2024-03-28","t":22.4,"p":22.2,"r":0.2},
      {"d":"2024-04-01","t":23.1,"p":22.9,"r":0.18},
      {"d":"2024-04-03","t":21.6,"p":21.4,"r":0.16},
      {"d":"2024-04-06","t":20.8,"p":20.7,"r":0.12},
      {"d":"2024-04-08","t":21.4,"p":21.2,"r":0.18},
      {"d":"2024-04-11","t":22.2,"p":22.0,"r":0.2},
      {"d":"2024-04-13","t":21.0,"p":20.8,"r":0.14},
      {"d":"2024-04-16","t":22.7,"p":22.6,"r":0.08},
      {"d":"2024-04-18","t":21.2,"p":21.0,"r":0.12},
      {"d":"2024-04-21","t":19.95,"p":19.8,"r":0.16},
      {"d":"2024-04-23","t":20.9,"p":20.7,"r":0.2},
      {"d":"2024-04-26","t":20.85,"p":20.6,"r":0.24},
      {"d":"2024-04-28","t":20.2,"p":20.0,"r":0.2},
      {"d":"2024-05-01","t":20.85,"p":20.7,"r":0.14},
      {"d":"2024-05-03","t":20.6,"p":20.4,"r":0.18},
      {"d":"2024-05-06","t":20.3,"p":20.1,"r":0.22},
      {"d":"2024-05-08","t":20.9,"p":20.7,"r":0.24},
      {"d":"2024-05-11","t":19.7,"p":19.4,"r":0.28},
      {"d":"2024-05-13","t":19.6,"p":19.3,"r":0.26},
      {"d":"2024-05-16","t":20.25,"p":20.0,"r":0.24},
      {"d":"2024-05-18","t":20.7,"p":20.4,"r":0.28},
      {"d":"2024-05-21","t":20.6,"p":20.3,"r":0.3},
      {"d":"2024-05-24","t":21.15,"p":20.9,"r":0.26}
    ],
    "test": [
      {"d":"2024-05-26","t":21.2,"p":20.9,"r":0.3},
      {"d":"2024-05-28","t":20.8,"p":20.5,"r":0.28},
      {"d":"2024-06-01","t":21.85,"p":21.6,"r":0.24},
      {"d":"2024-06-03","t":20.8,"p":20.6,"r":0.22},
      {"d":"2024-06-06","t":20.8,"p":20.6,"r":0.2},
      {"d":"2024-06-08","t":21.4,"p":21.2,"r":0.24},
      {"d":"2024-06-11","t":21.05,"p":20.8,"r":0.26},
      {"d":"2024-06-13","t":20.6,"p":20.4,"r":0.22},
      {"d":"2024-06-16","t":20.5,"p":20.3,"r":0.18},
      {"d":"2024-06-18","t":21.1,"p":20.9,"r":0.2},
      {"d":"2024-06-21","t":21.5,"p":21.3,"r":0.22},
      {"d":"2024-06-23","t":20.5,"p":20.3,"r":0.18},
      {"d":"2024-06-26","t":20.55,"p":20.4,"r":0.16},
      {"d":"2024-06-28","t":21.6,"p":21.4,"r":0.22},
      {"d":"2024-07-01","t":21.55,"p":21.3,"r":0.24},
      {"d":"2024-07-03","t":20.8,"p":20.6,"r":0.26},
      {"d":"2024-07-06","t":20.4,"p":20.2,"r":0.2},
      {"d":"2024-07-08","t":21.2,"p":21.0,"r":0.24},
      {"d":"2024-07-11","t":22.1,"p":21.8,"r":0.28},
      {"d":"2024-07-13","t":20.7,"p":20.5,"r":0.26},
      {"d":"2024-07-16","t":20.3,"p":20.1,"r":0.22},
      {"d":"2024-07-18","t":21.4,"p":21.2,"r":0.24},
      {"d":"2024-07-21","t":22.2,"p":21.9,"r":0.3},
      {"d":"2024-07-23","t":21.6,"p":21.3,"r":0.32},
      {"d":"2024-07-26","t":22.75,"p":22.4,"r":0.36},
      {"d":"2024-07-28","t":23.6,"p":23.2,"r":0.4},
      {"d":"2024-08-01","t":26.25,"p":25.8,"r":0.45},
      {"d":"2024-08-03","t":26.6,"p":26.1,"r":0.5},
      {"d":"2024-08-06","t":25.9,"p":25.4,"r":0.52},
      {"d":"2024-08-08","t":25.9,"p":25.4,"r":0.54},
      {"d":"2024-08-11","t":26.6,"p":26.1,"r":0.48},
      {"d":"2024-08-13","t":26.3,"p":25.8,"r":0.46},
      {"d":"2024-08-16","t":29.05,"p":28.6,"r":0.44},
      {"d":"2024-08-18","t":26.4,"p":26.0,"r":0.4},
      {"d":"2024-08-21","t":27.0,"p":26.6,"r":0.38},
      {"d":"2024-08-23","t":27.8,"p":27.4,"r":0.36},
      {"d":"2024-08-26","t":28.1,"p":27.8,"r":0.32},
      {"d":"2024-08-28","t":27.6,"p":27.3,"r":0.3},
      {"d":"2024-09-01","t":27.4,"p":27.1,"r":0.28},
      {"d":"2024-09-03","t":28.2,"p":27.9,"r":0.32},
      {"d":"2024-09-06","t":29.9,"p":29.6,"r":0.3},
      {"d":"2024-09-08","t":27.8,"p":27.4,"r":0.38},
      {"d":"2024-09-11","t":27.15,"p":26.8,"r":0.36},
      {"d":"2024-09-13","t":26.7,"p":26.3,"r":0.42},
      {"d":"2024-09-16","t":25.75,"p":25.3,"r":0.45},
      {"d":"2024-09-18","t":26.6,"p":26.1,"r":0.47},
      {"d":"2024-09-21","t":29.5,"p":29.1,"r":0.38},
      {"d":"2024-09-23","t":26.5,"p":26.2,"r":0.32},
      {"d":"2024-09-26","t":25.4,"p":25.1,"r":0.3},
      {"d":"2024-09-28","t":25.0,"p":24.8,"r":0.24},
      {"d":"2024-10-01","t":26.1,"p":25.9,"r":0.22},
      {"d":"2024-10-03","t":25.0,"p":24.7,"r":0.28},
      {"d":"2024-10-06","t":25.2,"p":24.9,"r":0.32},
      {"d":"2024-10-08","t":25.8,"p":25.5,"r":0.26},
      {"d":"2024-10-11","t":24.5,"p":24.3,"r":0.2},
      {"d":"2024-10-13","t":25.4,"p":25.2,"r":0.24},
      {"d":"2024-10-16","t":25.7,"p":25.4,"r":0.28},
      {"d":"2024-10-18","t":24.9,"p":24.7,"r":0.2},
      {"d":"2024-10-21","t":24.1,"p":23.9,"r":0.18},
      {"d":"2024-10-23","t":25.0,"p":24.8,"r":0.24},
      {"d":"2024-10-26","t":25.5,"p":25.2,"r":0.3},
      {"d":"2024-10-28","t":24.8,"p":24.5,"r":0.28},
      {"d":"2024-11-01","t":26.75,"p":26.5,"r":0.26},
      {"d":"2024-11-03","t":26.9,"p":26.6,"r":0.3},
      {"d":"2024-11-06","t":26.35,"p":26.0,"r":0.34},
      {"d":"2024-11-08","t":25.7,"p":25.4,"r":0.32},
      {"d":"2024-11-11","t":24.65,"p":24.3,"r":0.36},
      {"d":"2024-11-13","t":24.6,"p":24.2,"r":0.38},
      {"d":"2024-11-16","t":25.4,"p":25.0,"r":0.4},
      {"d":"2024-11-18","t":25.2,"p":24.8,"r":0.36},
      {"d":"2024-11-21","t":24.9,"p":24.6,"r":0.32},
      {"d":"2024-11-23","t":24.4,"p":24.1,"r":0.34},
      {"d":"2024-11-26","t":25.45,"p":25.1,"r":0.36},
      {"d":"2024-11-28","t":25.8,"p":25.5,"r":0.32},
      {"d":"2024-12-01","t":26.4,"p":26.1,"r":0.3},
      {"d":"2024-12-03","t":25.6,"p":25.3,"r":0.34},
      {"d":"2024-12-06","t":25.35,"p":25.0,"r":0.34},
      {"d":"2024-12-08","t":26.4,"p":26.0,"r":0.38},
      {"d":"2024-12-11","t":26.0,"p":25.6,"r":0.38},
      {"d":"2024-12-13","t":25.3,"p":25.0,"r":0.34},
      {"d":"2024-12-16","t":25.7,"p":25.4,"r":0.32},
      {"d":"2024-12-18","t":26.1,"p":25.8,"r":0.34},
      {"d":"2024-12-21","t":25.65,"p":25.3,"r":0.36},
      {"d":"2024-12-23","t":26.0,"p":25.7,"r":0.32},
      {"d":"2024-12-26","t":26.8,"p":26.5,"r":0.3},
      {"d":"2024-12-28","t":25.9,"p":25.6,"r":0.32},
      {"d":"2025-01-01","t":25.25,"p":24.9,"r":0.34},
      {"d":"2025-01-03","t":25.8,"p":25.5,"r":0.36},
      {"d":"2025-01-06","t":26.2,"p":25.8,"r":0.38},
      {"d":"2025-01-08","t":25.7,"p":25.4,"r":0.34},
      {"d":"2025-01-11","t":25.5,"p":25.2,"r":0.32},
      {"d":"2025-01-13","t":26.3,"p":26.0,"r":0.34},
      {"d":"2025-01-16","t":27.25,"p":26.9,"r":0.36},
      {"d":"2025-01-18","t":25.9,"p":25.6,"r":0.32},
      {"d":"2025-01-21","t":25.4,"p":25.1,"r":0.3},
      {"d":"2025-01-23","t":25.9,"p":25.6,"r":0.32},
      {"d":"2025-01-26","t":25.05,"p":24.7,"r":0.34},
      {"d":"2025-01-28","t":25.6,"p":25.2,"r":0.38},
      {"d":"2025-02-01","t":26.25,"p":25.8,"r":0.44},
      {"d":"2025-02-03","t":25.9,"p":25.4,"r":0.48},
      {"d":"2025-02-06","t":26.7,"p":26.2,"r":0.5},
      {"d":"2025-02-08","t":26.0,"p":25.6,"r":0.42},
      {"d":"2025-02-11","t":25.95,"p":25.6,"r":0.36},
      {"d":"2025-02-13","t":25.2,"p":24.9,"r":0.34},
      {"d":"2025-02-16","t":24.8,"p":24.5,"r":0.3},
      {"d":"2025-02-18","t":25.6,"p":25.3,"r":0.34},
      {"d":"2025-02-21","t":27.6,"p":27.3,"r":0.32},
      {"d":"2025-02-23","t":25.0,"p":24.7,"r":0.3},
      {"d":"2025-02-26","t":24.7,"p":24.4,"r":0.28},
      {"d":"2025-02-28","t":24.3,"p":24.0,"r":0.3},
      {"d":"2025-03-01","t":24.15,"p":23.9,"r":0.26},
      {"d":"2025-03-03","t":24.9,"p":24.6,"r":0.28},
      {"d":"2025-03-06","t":24.8,"p":24.5,"r":0.3},
      {"d":"2025-03-08","t":24.2,"p":23.9,"r":0.26},
      {"d":"2025-03-11","t":24.55,"p":24.3,"r":0.24},
      {"d":"2025-03-13","t":25.0,"p":24.7,"r":0.28},
      {"d":"2025-03-16","t":25.1,"p":24.8,"r":0.28},
      {"d":"2025-03-18","t":24.6,"p":24.3,"r":0.3},
      {"d":"2025-03-21","t":26.15,"p":25.9,"r":0.26},
      {"d":"2025-03-23","t":25.2,"p":24.9,"r":0.28},
      {"d":"2025-03-26","t":24.8,"p":24.6,"r":0.22},
      {"d":"2025-03-28","t":25.05,"p":24.8,"r":0.24}
    ]
  },
  "vconcat": [
    {
      "width": 2881,
      "height": 677,
      "layer": [
        {
          "encoding": {
            "x": {"field": "d", "type": "temporal", "axis": null,
              "scale": {"type": "utc", "domain": [{"year": 2021, "month": 3, "date": 28, "hours": 8, "utc": true}, {"year": 2025, "month": 7, "date": 15, "hours": 12, "utc": true}]}},
            "y": {"field": "r", "type": "quantitative", "scale": {"domain": [-4.5, 1]},
              "axis": {"title": "残差值/mm", "values": [-4, -3, -2, -1, 0, 1], "format": "d"}}
          },
          "layer": [
            {"data": {"name": "train"}, "mark": {"type": "point", "shape": "circle", "filled": true, "size": 170, "opacity": 1, "invalid": "filter"},
             "encoding": {"color": {"datum": "训练集残差值（ σ=0.182 ）", "type": "nominal",
               "scale": {"domain": ["训练集残差值（ σ=0.182 ）", "验证集残差值（ σ=0.062 ）", "测试集残差值（ σ=0.069 ）"], "range": ["#11759a", "#247a3a", "#e08a2e"]},
               "legend": {"title": null, "orient": "none", "legendX": 2143, "legendY": 494, "symbolType": "circle", "symbolSize": 576, "symbolStrokeWidth": 0, "symbolOpacity": 1, "clipHeight": 48, "rowPadding": 10.5, "labelOffset": 10, "labelFontSize": 49, "labelLimit": 0, "padding": 0}}}},
            {"data": {"name": "val"}, "mark": {"type": "point", "shape": "circle", "filled": true, "size": 170, "opacity": 1, "invalid": "filter"},
             "encoding": {"color": {"datum": "验证集残差值（ σ=0.062 ）", "type": "nominal"}}},
            {"data": {"name": "test"}, "mark": {"type": "point", "shape": "circle", "filled": true, "size": 170, "opacity": 1, "invalid": "filter"},
             "encoding": {"color": {"datum": "测试集残差值（ σ=0.069 ）", "type": "nominal"}}},
            {"data": {"name": "train"}, "mark": {"type": "point", "shape": "circle", "filled": true, "size": 170, "invalid": "filter",
              "fill": {"gradient": "radial", "x1": 0.38, "y1": 0.32, "r1": 0, "x2": 0.38, "y2": 0.32, "r2": 0.42, "stops": [{"offset": 0, "color": "rgba(255,255,255,0.95)"}, {"offset": 1, "color": "rgba(255,255,255,0)"}]}}},
            {"data": {"name": "val"}, "mark": {"type": "point", "shape": "circle", "filled": true, "size": 170, "invalid": "filter",
              "fill": {"gradient": "radial", "x1": 0.38, "y1": 0.32, "r1": 0, "x2": 0.38, "y2": 0.32, "r2": 0.42, "stops": [{"offset": 0, "color": "rgba(255,255,255,0.95)"}, {"offset": 1, "color": "rgba(255,255,255,0)"}]}}},
            {"data": {"name": "test"}, "mark": {"type": "point", "shape": "circle", "filled": true, "size": 170, "invalid": "filter",
              "fill": {"gradient": "radial", "x1": 0.38, "y1": 0.32, "r1": 0, "x2": 0.38, "y2": 0.32, "r2": 0.42, "stops": [{"offset": 0, "color": "rgba(255,255,255,0.95)"}, {"offset": 1, "color": "rgba(255,255,255,0)"}]}}}
          ]
        },
        {"data": {"values": [{"v": 0}]}, "mark": {"type": "rule", "color": "#808080", "strokeDash": [20, 13], "strokeWidth": 4},
         "encoding": {"y": {"datum": 0, "type": "quantitative"}}},
        {"data": {"values": [{"d": "2023-08-10"}]}, "mark": {"type": "rule", "color": "black", "strokeDash": [20, 14], "strokeWidth": 3},
         "encoding": {"x": {"field": "d", "type": "temporal", "axis": null}}},
        {"data": {"values": [{"d": "2024-05-24"}]}, "mark": {"type": "rule", "color": "#e8131b", "strokeDash": [20, 14], "strokeWidth": 3},
         "encoding": {"x": {"field": "d", "type": "temporal", "axis": null}}}
      ]
    },
    {
      "width": 2881,
      "height": 1132,
      "encoding": {
        "x": {"field": "d", "type": "temporal",
          "scale": {"type": "utc", "domain": [{"year": 2021, "month": 3, "date": 28, "hours": 8, "utc": true}, {"year": 2025, "month": 7, "date": 15, "hours": 12, "utc": true}]},
          "axis": {"title": "日期", "format": "%Y-%m-%d", "labelAngle": -56, "labelAlign": "right", "labelBaseline": "middle",
            "labelOverlap": false, "labelFlush": false, "labelBound": false, "labelLimit": 0, "labelFontSize": 49,
            "tickSize": -18, "labelPadding": 56, "labelOffset": -10, "titlePadding": 68,
            "values": [
              {"year": 2021, "month": 6, "date": 17, "utc": true}, {"year": 2021, "month": 8, "date": 16, "utc": true},
              {"year": 2021, "month": 10, "date": 15, "utc": true}, {"year": 2021, "month": 12, "date": 14, "utc": true},
              {"year": 2022, "month": 2, "date": 12, "utc": true}, {"year": 2022, "month": 4, "date": 13, "utc": true},
              {"year": 2022, "month": 6, "date": 12, "utc": true}, {"year": 2022, "month": 8, "date": 11, "utc": true},
              {"year": 2022, "month": 10, "date": 10, "utc": true}, {"year": 2022, "month": 12, "date": 9, "utc": true},
              {"year": 2023, "month": 2, "date": 7, "utc": true}, {"year": 2023, "month": 4, "date": 8, "utc": true},
              {"year": 2023, "month": 6, "date": 7, "utc": true}, {"year": 2023, "month": 8, "date": 6, "utc": true},
              {"year": 2023, "month": 10, "date": 5, "utc": true}, {"year": 2023, "month": 12, "date": 4, "utc": true},
              {"year": 2024, "month": 2, "date": 2, "utc": true}, {"year": 2024, "month": 4, "date": 2, "utc": true},
              {"year": 2024, "month": 6, "date": 1, "utc": true}, {"year": 2024, "month": 7, "date": 31, "utc": true},
              {"year": 2024, "month": 9, "date": 29, "utc": true}, {"year": 2024, "month": 11, "date": 28, "utc": true},
              {"year": 2025, "month": 1, "date": 27, "utc": true}, {"year": 2025, "month": 3, "date": 28, "utc": true}
            ]}}
      },
      "layer": [
        {"data": {"name": "train"}, "mark": {"type": "line", "strokeWidth": 3, "invalid": "filter"},
         "encoding": {
           "y": {"field": "t", "type": "quantitative", "scale": {"domain": [0, 35]}, "axis": {"title": "累计位移变形量/mm", "values": [0, 5, 10, 15, 20, 25, 30, 35]}},
           "color": {"datum": "真实位移（ 训练集 ）", "type": "nominal",
             "scale": {"domain": ["真实位移（ 训练集 ）", "真实位移（ 验证集 ）", "真实位移（ 测试集 ）", "预测位移（ 训练集 ）", "预测位移（ 验证集 ）", "预测位移（ 测试集 ）", "训练集/验证集划分", "验证集/测试集划分"],
               "range": ["#1fa2d6", "#3cae5c", "#ec9439", "#f2e35c", "#5e70b2", "#d9485a", "#808080", "#e8131b"]},
             "legend": {"title": null, "orient": "none", "legendX": 71, "legendY": 49, "symbolType": "stroke", "symbolSize": 12100, "symbolStrokeWidth": 3, "clipHeight": 50, "rowPadding": 9, "labelOffset": 18, "labelFontSize": 49, "labelLimit": 0, "padding": 0}},
           "strokeDash": {"datum": "真实位移（ 训练集 ）", "type": "nominal",
             "scale": {"domain": ["真实位移（ 训练集 ）", "真实位移（ 验证集 ）", "真实位移（ 测试集 ）", "预测位移（ 训练集 ）", "预测位移（ 验证集 ）", "预测位移（ 测试集 ）", "训练集/验证集划分", "验证集/测试集划分"],
               "range": [[1, 0], [1, 0], [1, 0], [1, 0], [1, 0], [1, 0], [13, 8], [13, 8]]},
             "legend": {"title": null, "orient": "none", "legendX": 71, "legendY": 49, "symbolType": "stroke", "symbolSize": 12100, "symbolStrokeWidth": 3, "clipHeight": 50, "rowPadding": 9, "labelOffset": 18, "labelFontSize": 49, "labelLimit": 0, "padding": 0}}
         }},
        {"data": {"name": "train"}, "mark": {"type": "line", "strokeWidth": 3, "invalid": "filter"},
         "encoding": {"y": {"field": "p", "type": "quantitative"}, "color": {"datum": "预测位移（ 训练集 ）", "type": "nominal"}, "strokeDash": {"datum": "预测位移（ 训练集 ）", "type": "nominal"}}},
        {"data": {"name": "val"}, "mark": {"type": "line", "strokeWidth": 3, "invalid": "filter"},
         "encoding": {"y": {"field": "t", "type": "quantitative"}, "color": {"datum": "真实位移（ 验证集 ）", "type": "nominal"}, "strokeDash": {"datum": "真实位移（ 验证集 ）", "type": "nominal"}}},
        {"data": {"name": "val"}, "mark": {"type": "line", "strokeWidth": 3, "invalid": "filter"},
         "encoding": {"y": {"field": "p", "type": "quantitative"}, "color": {"datum": "预测位移（ 验证集 ）", "type": "nominal"}, "strokeDash": {"datum": "预测位移（ 验证集 ）", "type": "nominal"}}},
        {"data": {"name": "test"}, "mark": {"type": "line", "strokeWidth": 3, "invalid": "filter"},
         "encoding": {"y": {"field": "t", "type": "quantitative"}, "color": {"datum": "真实位移（ 测试集 ）", "type": "nominal"}, "strokeDash": {"datum": "真实位移（ 测试集 ）", "type": "nominal"}}},
        {"data": {"name": "test"}, "mark": {"type": "line", "strokeWidth": 3, "invalid": "filter"},
         "encoding": {"y": {"field": "p", "type": "quantitative"}, "color": {"datum": "预测位移（ 测试集 ）", "type": "nominal"}, "strokeDash": {"datum": "预测位移（ 测试集 ）", "type": "nominal"}}},
        {"data": {"values": [{"d": "2023-08-10"}]}, "mark": {"type": "rule", "color": "black", "strokeDash": [20, 14], "strokeWidth": 3}, "encoding": {}},
        {"data": {"values": [{"d": "2024-05-24"}]}, "mark": {"type": "rule", "color": "#e8131b", "strokeDash": [20, 14], "strokeWidth": 3}, "encoding": {}}
      ]
    }
  ]
}
